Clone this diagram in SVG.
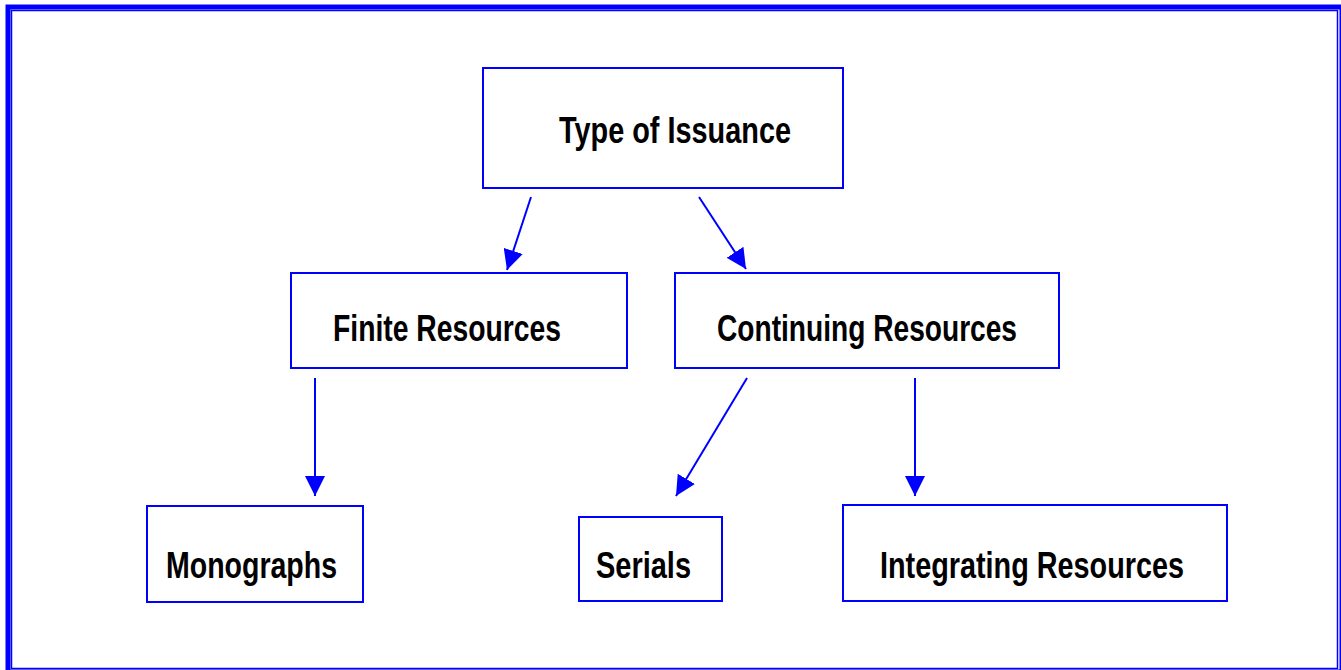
<svg xmlns="http://www.w3.org/2000/svg" width="1341" height="670" viewBox="0 0 1341 670">
<style>
.box{fill:#FFFFFF;stroke:#0000FF;stroke-width:2}
.lbl{font-family:"Liberation Sans Narrow","Arial Narrow","Liberation Sans",Arial,sans-serif;font-weight:bold;font-size:36px;fill:#000000}
.conn{stroke:#0000FF;stroke-width:2;fill:none}
</style>
<defs>
<marker id="ah" markerUnits="userSpaceOnUse" markerWidth="20" markerHeight="20" refX="20" refY="10" orient="auto" viewBox="0 0 20 20">
<path d="M0,0 L20,10 L0,20 Z" fill="#0000FF"/>
</marker>
</defs>
<rect width="1341" height="670" fill="#FFFFFF"/>
<g id="frame">
<rect x="8" y="7" width="1334" height="665" fill="none" stroke="#0000FF" stroke-width="5"/>
<rect x="11.5" y="10.5" width="1326" height="658" fill="none" stroke="#0000FF" stroke-width="1.5"/>
</g>
<g id="connectors">
<line class="conn" x1="531" y1="197" x2="507" y2="270" marker-end="url(#ah)"/>
<line class="conn" x1="699" y1="197" x2="746" y2="269" marker-end="url(#ah)"/>
<line class="conn" x1="315" y1="378" x2="315" y2="496" marker-end="url(#ah)"/>
<line class="conn" x1="747" y1="378" x2="676" y2="496" marker-end="url(#ah)"/>
<line class="conn" x1="915" y1="378" x2="915" y2="496" marker-end="url(#ah)"/>
</g>
<g id="type-of-issuance">
<rect class="box" x="483" y="68" width="360" height="120"/>
<text class="lbl" x="559" y="143" textLength="232" lengthAdjust="spacingAndGlyphs">Type of Issuance</text>
</g>
<g id="finite-resources">
<rect class="box" x="291" y="273" width="336" height="95"/>
<text class="lbl" x="333" y="341" textLength="228" lengthAdjust="spacingAndGlyphs">Finite Resources</text>
</g>
<g id="continuing-resources">
<rect class="box" x="675" y="273" width="384" height="95"/>
<text class="lbl" x="717" y="341" textLength="300" lengthAdjust="spacingAndGlyphs">Continuing Resources</text>
</g>
<g id="monographs">
<rect class="box" x="147" y="506" width="216" height="96"/>
<text class="lbl" x="166" y="578" textLength="171" lengthAdjust="spacingAndGlyphs">Monographs</text>
</g>
<g id="serials">
<rect class="box" x="579" y="517" width="143" height="84"/>
<text class="lbl" x="596" y="578" textLength="95" lengthAdjust="spacingAndGlyphs">Serials</text>
</g>
<g id="integrating-resources">
<rect class="box" x="843" y="505" width="384" height="96"/>
<text class="lbl" x="880" y="578" textLength="304" lengthAdjust="spacingAndGlyphs">Integrating Resources</text>
</g>
</svg>
